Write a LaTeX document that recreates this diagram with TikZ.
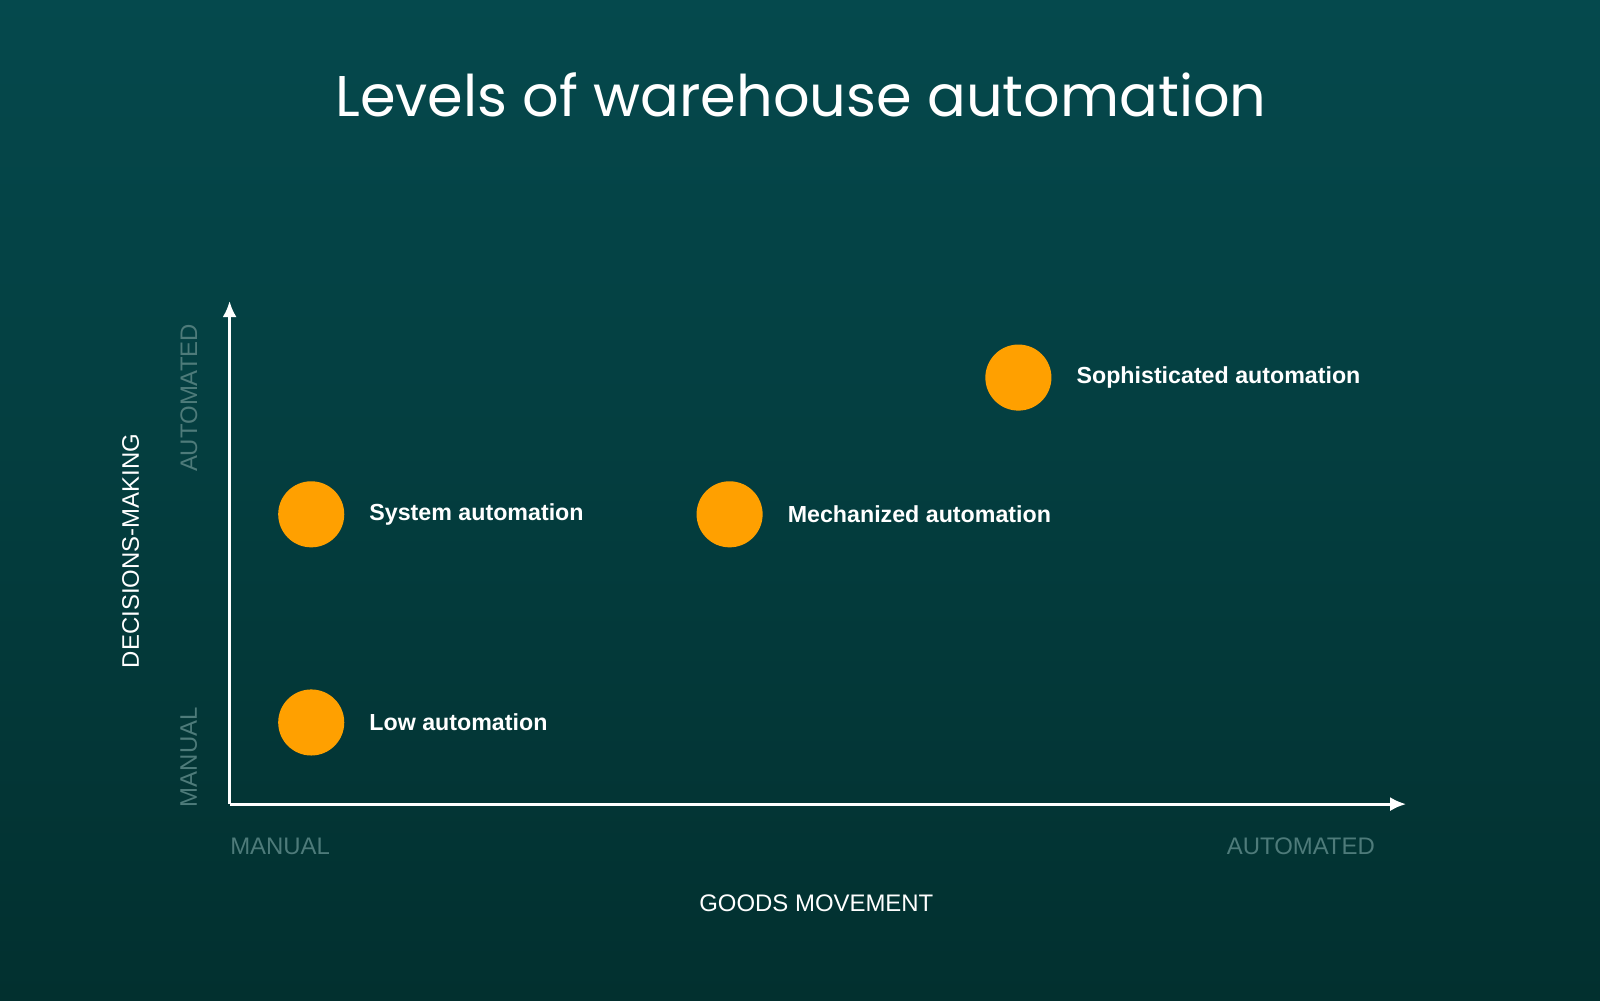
\documentclass[tikz,border=0pt]{standalone}
\usepackage{fontspec}
\setmainfont{Liberation Sans}
\newfontfamily\titlefont{Poppins}
\usetikzlibrary{positioning, arrows.meta}
\definecolor{bgtop}{HTML}{05494D}
\definecolor{bgbot}{HTML}{02302F}
\definecolor{dot}{HTML}{FFA000}
\definecolor{faint}{HTML}{4E7B7A}
\tikzset{
  level/.style = {circle, fill=dot, minimum size=0.66cm, inner sep=0pt},
  levellabel/.style = {right = 0.12cm of #1, text=white, font=\fontsize{6.6}{8}\selectfont\bfseries},
  ends/.style = {text=faint, font=\fontsize{6.8}{8}\selectfont, inner sep=0pt},
  axisname/.style = {text=white, font=\fontsize{6.8}{8}\selectfont, inner sep=0pt}
}
\begin{document}
\begin{tikzpicture}[x=0.0102cm, y=-0.0102cm]
	\shade[top color=bgtop, bottom color=bgbot] (0,0) rectangle (1568,980);
	\useasboundingbox (0,0) rectangle (1568,980);
	\node (title) at (785,93) {\titlefont\fontsize{16.3}{20}\selectfont\color{white}Levels of warehouse automation};
	
	\coordinate (origin) at (225,788);
	\coordinate (ytop) at (225,295);
	\coordinate (xend) at (1378,788);
	\draw[white, thick, -{Latex[length=1.6mm, width=1.4mm]}] (origin) -- (ytop);
	\draw[white, thick, -{Latex[length=1.6mm, width=1.4mm]}] (origin) -- (xend);
	
	\node (low) [level] at (305,708) {};
	\node (sys) [level] at (305,504) {};
	\node (mech) [level] at (715,504) {};
	\node (soph) [level] at (998,370) {};
	\node [levellabel=low] {Low automation};
	\node [levellabel=sys] {System automation};
	\node [levellabel=mech] {Mechanized automation};
	\node [levellabel=soph] {Sophisticated automation};
	
	\node (xlow) [ends, anchor=west] at (225,829) {MANUAL};
	\node (xhigh) [ends, anchor=east] at (1348,829) {AUTOMATED};
	\node (xname) [axisname] at (800,885) {GOODS MOVEMENT};
	\node (ylow) [ends, rotate=90] at (185,742) {MANUAL};
	\node (yhigh) [ends, rotate=90] at (185,390) {AUTOMATED};
	\node (yname) [axisname, rotate=90] at (128,540) {DECISIONS-MAKING};
\end{tikzpicture}
\end{document}
